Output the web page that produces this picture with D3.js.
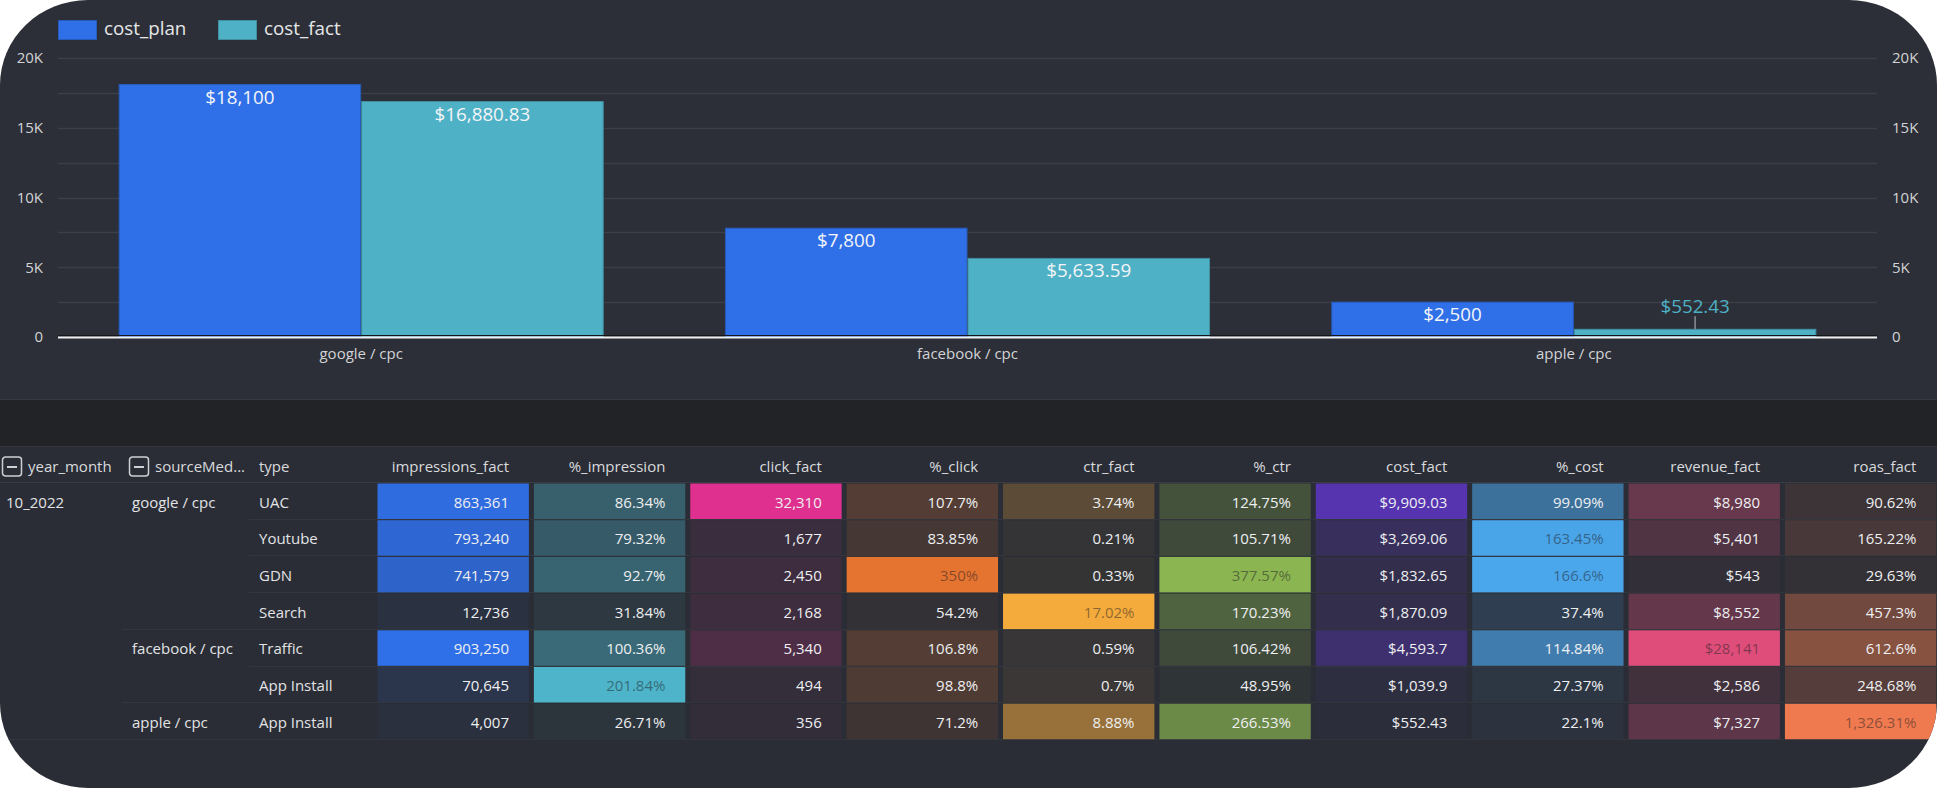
<!DOCTYPE html>
<html>
<head>
<meta charset="utf-8">
<title>cost_plan / cost_fact</title>
<script src="https://d3js.org/d3.v7.min.js"></script>
<style>
body { margin: 0; background: #fff; }
svg { display: block; font-family: "Open Sans", sans-serif; }
.axis path, .axis line { display: none; }
.axis text { font-family: "Open Sans", sans-serif; font-size: 15px; fill: #d2d3d6; }
.head { font-size: 15px; fill: #d9dadd; }
.cell { font-size: 15px; }
.dim { font-size: 15px; fill: #e2e3e5; }
</style>
</head>
<body>
<script>
// ---- chart data ----
var categories = ["google / cpc", "facebook / cpc", "apple / cpc"];
var seriesNames = ["cost_plan", "cost_fact"];
var costPlan = [18100, 7800, 2500];
var costFact = [16880.83, 5633.59, 552.43];
var yTicks = [0, 5000, 10000, 15000, 20000];
var gridTicks = [2500, 5000, 7500, 10000, 12500, 15000, 17500, 20000];

// ---- table data ----
var tableYear = ["10_2022"];
var rowSource = ["google / cpc", "google / cpc", "google / cpc", "google / cpc", "facebook / cpc", "facebook / cpc", "apple / cpc"];
var rowType = ["UAC", "Youtube", "GDN", "Search", "Traffic", "App Install", "App Install"];
var colNames = ["impressions_fact", "%_impression", "click_fact", "%_click", "ctr_fact", "%_ctr", "cost_fact", "%_cost", "revenue_fact", "roas_fact"];
var impressionsFact = [863361, 793240, 741579, 12736, 903250, 70645, 4007];
var pctImpression = [86.34, 79.32, 92.7, 31.84, 100.36, 201.84, 26.71];
var clickFact = [32310, 1677, 2450, 2168, 5340, 494, 356];
var pctClick = [107.7, 83.85, 350, 54.2, 106.8, 98.8, 71.2];
var ctrFact = [3.74, 0.21, 0.33, 17.02, 0.59, 0.7, 8.88];
var pctCtr = [124.75, 105.71, 377.57, 170.23, 106.42, 48.95, 266.53];
var costFactRows = [9909.03, 3269.06, 1832.65, 1870.09, 4593.7, 1039.9, 552.43];
var pctCost = [99.09, 163.45, 166.6, 37.4, 114.84, 27.37, 22.1];
var revenueFact = [8980, 5401, 543, 8552, 28141, 2586, 7327];
var roasFact = [90.62, 165.22, 29.63, 457.3, 612.6, 248.68, 1326.31];

var colValues = [impressionsFact, pctImpression, clickFact, pctClick, ctrFact, pctCtr, costFactRows, pctCost, revenueFact, roasFact];
var colKind = ["n", "p", "n", "p", "p", "p", "$", "p", "$", "p"];
var colColors = ["#2f6fe8", "#4db4c9", "#e0308f", "#e57430", "#f4ab3c", "#8ab550", "#5634b0", "#4ba7ec", "#df4d7a", "#f07a4f"];

var w = 1937;
var h = 788;
var chartBg = "#2c2f37";
var tableBg = "#2a2d35";
var comma = d3.format(",");

function fmt(kind, v) {
    if (kind === "$") return "$" + comma(v);
    if (kind === "p") return comma(v) + "%";
    return comma(v);
}

var svg = d3.select("body")
    .append("svg")
    .attr("width", w)
    .attr("height", h);

// rounded card
svg.append("clipPath")
    .attr("id", "card")
    .append("rect")
    .attr("width", w)
    .attr("height", h)
    .attr("rx", 88)
    .attr("ry", 85);

var root = svg.append("g").attr("clip-path", "url(#card)");

root.append("rect").attr("width", w).attr("height", 399).attr("fill", chartBg);
root.append("rect").attr("y", 399).attr("width", w).attr("height", 47).attr("fill", "#222327");
root.append("rect").attr("y", 446).attr("width", w).attr("height", h - 446).attr("fill", tableBg);
root.append("line").attr("x1", 0).attr("x2", w).attr("y1", 399.5).attr("y2", 399.5).attr("stroke", "#363940");
root.append("line").attr("x1", 0).attr("x2", w).attr("y1", 446.5).attr("y2", 446.5).attr("stroke", "#33363d");

// ---------------- bar chart ----------------
var yScale = d3.scaleLinear()
    .domain([0, 20000])
    .range([337, 58]);

var xScale = d3.scaleBand()
    .domain(categories)
    .range([58, 1877])
    .paddingInner(0.2)
    .paddingOuter(0.1);

var xSeries = d3.scaleBand()
    .domain(seriesNames)
    .range([0, xScale.bandwidth()]);

var seriesColor = d3.scaleOrdinal()
    .domain(seriesNames)
    .range(["#2f70e8", "#4fb1c6"]);

var seriesValues = [costPlan, costFact];

// grid lines
root.append("g")
    .selectAll("line")
    .data(gridTicks)
    .enter()
    .append("line")
    .attr("x1", 58)
    .attr("x2", 1877)
    .attr("y1", function(d) { return Math.round(yScale(d)) + 0.5; })
    .attr("y2", function(d) { return Math.round(yScale(d)) + 0.5; })
    .attr("stroke", "#3c3f47")
    .attr("stroke-width", 1.5);

var kFormat = function(d) { return d === 0 ? "0" : (d / 1000) + "K"; };

root.append("g")
    .attr("class", "axis")
    .attr("transform", "translate(58,0)")
    .call(d3.axisLeft(yScale).tickValues(yTicks).tickSize(0).tickPadding(15).tickFormat(kFormat));

root.append("g")
    .attr("class", "axis")
    .attr("transform", "translate(1877,0)")
    .call(d3.axisRight(yScale).tickValues(yTicks).tickSize(0).tickPadding(15).tickFormat(kFormat));

root.append("g")
    .attr("class", "axis")
    .attr("transform", "translate(0,337)")
    .call(d3.axisBottom(xScale).tickSize(0).tickPadding(11));

// bars
var groups = root.append("g")
    .selectAll("g")
    .data(categories)
    .enter()
    .append("g")
    .attr("transform", function(d) { return "translate(" + xScale(d) + ",0)"; });

var barData = function(d, i) {
    return seriesNames.map(function(s, k) { return { s: s, v: seriesValues[k][i] }; });
};

groups.selectAll("rect")
    .data(barData)
    .enter()
    .append("rect")
    .attr("x", function(d) { return xSeries(d.s) + 0.5; })
    .attr("y", function(d) { return yScale(d.v); })
    .attr("width", xSeries.bandwidth() - 1)
    .attr("height", function(d) { return yScale(0) - yScale(d.v); })
    .attr("fill", function(d) { return seriesColor(d.s); })
    .attr("stroke", function(d) { return d3.color(seriesColor(d.s)).darker(0.6); })
    .attr("stroke-width", 1);

// data labels
groups.selectAll("g.lbl")
    .data(barData)
    .enter()
    .append("g")
    .attr("class", "lbl")
    .each(function(d) {
        var g = d3.select(this);
        var cx = xSeries(d.s) + xSeries.bandwidth() / 2;
        var top = yScale(d.v);
        var inside = yScale(0) - top > 28;
        if (!inside) {
            g.append("line")
                .attr("x1", cx).attr("x2", cx)
                .attr("y1", top).attr("y2", top - 13)
                .attr("stroke", "#8c9097")
                .attr("stroke-width", 1.5);
        }
        g.append("text")
            .attr("x", cx)
            .attr("y", inside ? top + 19 : top - 16)
            .attr("text-anchor", "middle")
            .style("font-size", "18.8px")
            .attr("fill", inside ? "#f4f5f7" : seriesColor(d.s))
            .text("$" + comma(d.v));
    });

// zero line
root.append("line").attr("x1", 58).attr("x2", 1877).attr("y1", 335.5).attr("y2", 335.5).attr("stroke", "#15161a");
root.append("line").attr("x1", 58).attr("x2", 1877).attr("y1", 337.5).attr("y2", 337.5).attr("stroke", "#f2f2f2").attr("stroke-width", 2);

// legend
var legend = root.append("g")
    .selectAll("g")
    .data(seriesNames)
    .enter()
    .append("g")
    .attr("transform", function(d, i) { return "translate(" + (58 + i * 160) + ",20)"; });

legend.append("rect")
    .attr("x", 0.5).attr("y", 0.5)
    .attr("width", 38).attr("height", 19)
    .attr("fill", function(d) { return seriesColor(d); })
    .attr("stroke", function(d) { return d3.color(seriesColor(d)).darker(0.6); });

legend.append("text")
    .attr("x", 46)
    .attr("y", 15)
    .style("font-size", "18.8px")
    .attr("fill", "#e6e7e9")
    .text(function(d) { return d; });

// ---------------- table ----------------
var headY = 472;
var rowTop = 483;
var rowH = 36.7;
var colX = d3.scaleBand()
    .domain(colNames)
    .range([375, 1937 + 1.8]);

var rowY = function(i) { return rowTop + i * rowH; };

// header
function minusIcon(x) {
    var g = root.append("g").attr("transform", "translate(" + x + ",456.5)");
    g.append("rect").attr("x", 0.5).attr("y", 0.5).attr("width", 19).attr("height", 19)
        .attr("rx", 3).attr("fill", "none").attr("stroke", "#cfd0d3").attr("stroke-width", 1.5);
    g.append("line").attr("x1", 5).attr("x2", 15).attr("y1", 10.5).attr("y2", 10.5)
        .attr("stroke", "#cfd0d3").attr("stroke-width", 2);
}
minusIcon(2);
minusIcon(129);

root.append("text").attr("class", "head").attr("x", 28).attr("y", headY).text("year_month");
root.append("text").attr("class", "head").attr("x", 155).attr("y", headY).text("sourceMed...");
root.append("text").attr("class", "head").attr("x", 259).attr("y", headY).text("type");

root.append("g")
    .selectAll("text")
    .data(colNames)
    .enter()
    .append("text")
    .attr("class", "head")
    .attr("x", function(d) { return colX(d) + 134; })
    .attr("y", headY)
    .attr("text-anchor", "end")
    .text(function(d) { return d; });

root.append("line").attr("x1", 0).attr("x2", w).attr("y1", 482.5).attr("y2", 482.5).attr("stroke", "#383b42");

// row separators (hierarchy aware)
var lineStart = function(i) {
    if (i === rowType.length - 1) return 0;
    return rowSource[i] !== rowSource[i + 1] ? 122 : 249;
};
root.append("g")
    .selectAll("line")
    .data(rowType)
    .enter()
    .append("line")
    .attr("x1", function(d, i) { return lineStart(i); })
    .attr("x2", w)
    .attr("y1", function(d, i) { return Math.round(rowY(i + 1)) - 0.5; })
    .attr("y2", function(d, i) { return Math.round(rowY(i + 1)) - 0.5; })
    .attr("stroke", "#33363d");

// dimension texts
root.append("text").attr("class", "dim").attr("x", 6).attr("y", rowY(0) + 24.5).text(tableYear[0]);
root.append("g")
    .selectAll("text")
    .data(rowSource)
    .enter()
    .filter(function(d, i) { return i === 0 || rowSource[i - 1] !== d; })
    .append("text")
    .attr("class", "dim")
    .attr("x", 132)
    .attr("y", function(d) { return rowY(rowSource.indexOf(d)) + 24.5; })
    .text(function(d) { return d; });
root.append("g")
    .selectAll("text")
    .data(rowType)
    .enter()
    .append("text")
    .attr("class", "dim")
    .attr("x", 259)
    .attr("y", function(d, i) { return rowY(i) + 24.5; })
    .text(function(d) { return d; });

// heatmap cells
colNames.forEach(function(name, j) {
    var vals = colValues[j];
    var shade = d3.scaleLinear().domain(d3.extent(vals)).range([0.05, 1]);
    var mix = d3.interpolateRgb(tableBg, colColors[j]);
    var col = root.append("g").attr("transform", "translate(" + colX(name) + ",0)");

    var cells = col.selectAll("g")
        .data(vals)
        .enter()
        .append("g");

    cells.append("rect")
        .attr("x", 2.5)
        .attr("y", function(d, i) { return rowY(i) + 0.5; })
        .attr("width", colX.bandwidth() - 5)
        .attr("height", rowH - 1.2)
        .attr("fill", function(d) { return mix(shade(d)); });

    cells.append("text")
        .attr("class", "cell")
        .attr("x", 134)
        .attr("y", function(d, i) { return rowY(i) + 24.5; })
        .attr("text-anchor", "end")
        .attr("fill", function(d) {
            var c = d3.rgb(mix(shade(d)));
            var yiq = (c.r * 299 + c.g * 587 + c.b * 114) / 1000;
            return yiq > 123 ? "rgba(31,32,36,0.5)" : "#eeeff1";
        })
        .text(function(d) { return fmt(colKind[j], d); });
});
</script>
</body>
</html>
